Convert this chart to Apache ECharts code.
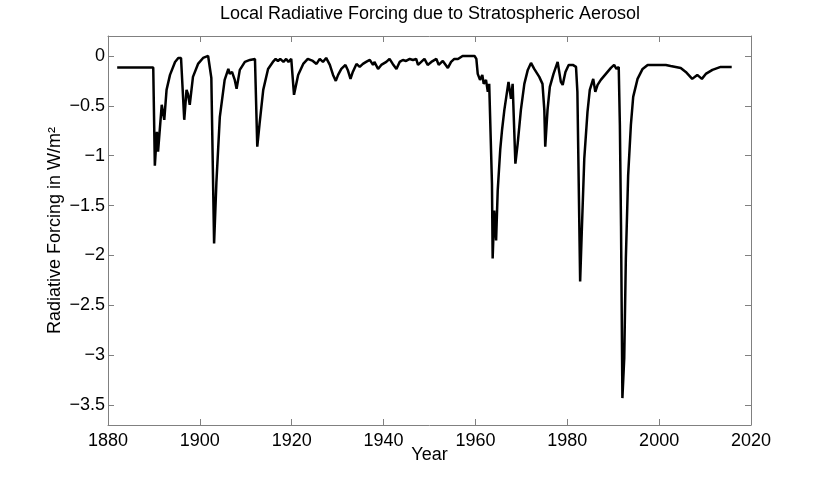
<!DOCTYPE html>
<html>
<head>
<meta charset="utf-8">
<script src="https://cdn.jsdelivr.net/npm/echarts@6/dist/echarts.min.js"></script>
<style>html,body{margin:0;padding:0;background:#fff}#c{width:830px;height:478px}</style>
</head>
<body>
<div id="c"></div>
<script>
const years = [1882.0,1889.85,1890.2,1890.65,1890.9,1891.7,1892.0,1892.25,1892.75,1893.5,1894.6,1895.3,1895.9,1896.6,1897.1,1897.4,1897.8,1898.5,1899.6,1900.7,1901.8,1902.5,1903.1,1903.6,1904.35,1905.4,1906.2,1906.5,1907.0,1907.6,1908.0,1908.7,1909.8,1910.9,1912.0,1912.5,1913.0,1913.8,1914.85,1915.9,1916.5,1917.0,1917.5,1918.2,1918.8,1919.3,1919.9,1920.5,1921.4,1922.5,1923.5,1924.6,1925.4,1926.1,1926.8,1927.5,1928.3,1929.0,1929.6,1930.1,1930.8,1931.7,1932.2,1932.8,1933.3,1934.1,1934.8,1935.5,1936.2,1937.0,1937.7,1938.0,1938.8,1939.5,1940.6,1941.3,1942.0,1942.8,1943.5,1944.2,1944.9,1945.7,1946.4,1947.1,1947.5,1948.2,1948.9,1949.6,1950.4,1951.5,1952.0,1952.9,1954.0,1954.7,1955.4,1956.2,1957.2,1959.8,1960.2,1960.5,1961.0,1961.5,1961.8,1962.3,1962.7,1963.0,1963.4,1963.6,1963.75,1964.1,1964.5,1964.85,1965.4,1965.8,1966.3,1967.2,1967.75,1968.1,1968.7,1969.2,1969.9,1970.65,1971.4,1972.1,1972.8,1973.9,1974.6,1975.0,1975.2,1975.7,1976.2,1977.0,1977.9,1978.3,1978.6,1979.0,1979.6,1980.3,1981.2,1981.9,1982.2,1982.8,1983.2,1983.7,1984.4,1984.9,1985.65,1986.1,1986.6,1987.3,1988.4,1989.5,1990.2,1990.7,1991.2,1991.45,1991.7,1992.0,1992.4,1992.75,1993.25,1993.85,1994.35,1995.3,1996.4,1997.5,1998.5,2000.0,2001.45,2002.5,2003.6,2004.7,2005.8,2007.2,2008.3,2009.3,2010.15,2011.6,2013.4,2015.8];
const forcing = [-0.116,-0.116,-1.10,-0.76,-0.96,-0.49,-0.50,-0.64,-0.34,-0.19,-0.06,-0.02,-0.02,-0.64,-0.34,-0.38,-0.49,-0.21,-0.08,-0.02,0.0,-0.22,-1.88,-1.27,-0.61,-0.24,-0.13,-0.18,-0.16,-0.24,-0.33,-0.14,-0.06,-0.04,-0.03,-0.91,-0.68,-0.34,-0.13,-0.06,-0.03,-0.05,-0.03,-0.06,-0.03,-0.06,-0.03,-0.39,-0.19,-0.08,-0.03,-0.05,-0.08,-0.03,-0.06,-0.02,-0.09,-0.19,-0.25,-0.19,-0.13,-0.09,-0.14,-0.23,-0.16,-0.08,-0.11,-0.08,-0.06,-0.04,-0.09,-0.06,-0.13,-0.09,-0.06,-0.03,-0.08,-0.13,-0.06,-0.04,-0.05,-0.03,-0.04,-0.03,-0.09,-0.06,-0.03,-0.09,-0.06,-0.03,-0.09,-0.05,-0.12,-0.06,-0.03,-0.03,0.0,0.0,-0.03,-0.18,-0.24,-0.19,-0.28,-0.24,-0.36,-0.28,-0.30,-1.28,-2.03,-1.55,-1.85,-1.35,-0.94,-0.74,-0.54,-0.26,-0.43,-0.28,-1.08,-0.88,-0.54,-0.28,-0.14,-0.07,-0.13,-0.21,-0.28,-0.54,-0.91,-0.54,-0.31,-0.18,-0.06,-0.06,-0.26,-0.29,-0.16,-0.09,-0.09,-0.11,-0.36,-2.26,-1.70,-1.03,-0.56,-0.34,-0.23,-0.36,-0.29,-0.24,-0.18,-0.12,-0.09,-0.13,-0.11,-0.69,-1.70,-3.43,-3.03,-2.03,-1.20,-0.69,-0.41,-0.23,-0.13,-0.09,-0.09,-0.09,-0.09,-0.10,-0.11,-0.12,-0.16,-0.23,-0.19,-0.23,-0.18,-0.14,-0.11,-0.11];
const yTicks = [0,-0.5,-1,-1.5,-2,-2.5,-3,-3.5];
const xRange = [1880, 2020];
const yRange = [-3.7, 0.2];

const FONT = '"Liberation Sans", Arial, Helvetica, sans-serif';
const AXC = '#808080';
const fmtY = v => { if (Math.abs(v) < 1e-9) return '0'; return (v < 0 ? '\u2212' : '') + String(Math.abs(v)); };

const chart = echarts.init(document.getElementById('c'), null, {renderer: 'canvas'});
const baseX = {
  type: 'value', min: xRange[0], max: xRange[1], interval: 20,
  axisLine: {show: true, onZero: false, lineStyle: {color: AXC, width: 1}},
  axisTick: {show: true, inside: true, length: 6, lineStyle: {color: AXC}},
  splitLine: {show: false}
};
const baseY = {
  type: 'value', min: yRange[0], max: yRange[1],
  axisLine: {show: true, onZero: false, lineStyle: {color: AXC, width: 1}},
  axisTick: {show: true, inside: true, length: 6, customValues: yTicks, lineStyle: {color: AXC}},
  splitLine: {show: false}
};
chart.setOption({
  animation: false,
  backgroundColor: '#fff',
  title: {
    text: 'Local Radiative Forcing due to Stratospheric Aerosol',
    left: 430, top: 5, textAlign: 'center', padding: 0,
    textStyle: {fontFamily: FONT, fontSize: 18, fontWeight: 'normal', color: '#000'}
  },
  grid: {left: 108, right: 79, top: 36, bottom: 53, containLabel: false},
  xAxis: [
    Object.assign({}, baseX, {
      position: 'bottom',
      name: 'Year', nameLocation: 'middle', nameGap: 21, nameMoveOverlap: false,
      nameTextStyle: {fontFamily: FONT, fontSize: 18, color: '#000'},
      axisLabel: {show: true, margin: 7, color: '#000', fontFamily: FONT, fontSize: 18, formatter: v => String(v)}
    }),
    Object.assign({}, baseX, {position: 'top', axisLabel: {show: false}})
  ],
  yAxis: [
    Object.assign({}, baseY, {
      position: 'left',
      name: 'Radiative Forcing in W/m\u00B2', nameLocation: 'middle', nameGap: 44, nameRotate: 90, nameMoveOverlap: false,
      nameTextStyle: {fontFamily: FONT, fontSize: 18, color: '#000'},
      axisLabel: {show: true, margin: 3, color: '#000', fontFamily: FONT, fontSize: 18, customValues: yTicks, formatter: fmtY}
    }),
    Object.assign({}, baseY, {position: 'right', axisLabel: {show: false}})
  ],
  series: [{
    type: 'line',
    xAxisIndex: 0, yAxisIndex: 0,
    data: years.map((y, i) => [y, forcing[i]]),
    showSymbol: false, symbol: 'none',
    lineStyle: {color: '#000', width: 2.5},
    clip: true
  }]
});
</script>
</body>
</html>
